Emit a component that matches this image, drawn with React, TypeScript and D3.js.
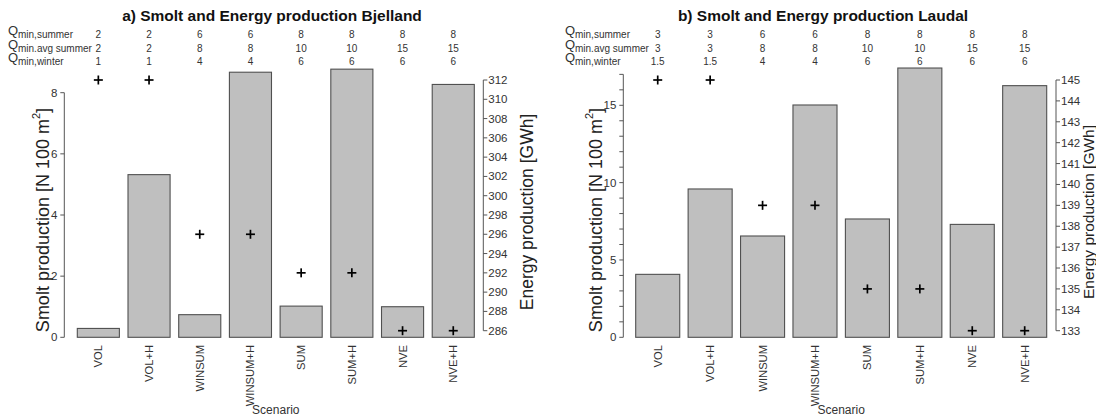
import React from 'react';
import * as d3 from 'd3';

// scenarios on the x axis (same for both sites)
const scenarios = ['VOL', 'VOL+H', 'WINSUM', 'WINSUM+H', 'SUM', 'SUM+H', 'NVE', 'NVE+H'];

// a) Bjelland
const smoltBjelland = [0.29, 5.32, 0.74, 8.67, 1.02, 8.77, 1.0, 8.27];
const energyBjelland = [312, 312, 296, 296, 292, 292, 286, 286];
const qSummerBjelland = ['2', '2', '6', '6', '8', '8', '8', '8'];
const qAvgSummerBjelland = ['2', '2', '8', '8', '10', '10', '15', '15'];
const qWinterBjelland = ['1', '1', '4', '4', '6', '6', '6', '6'];
const smoltTicksBjelland = [0, 2, 4, 6, 8];
const smoltLabelsBjelland = [0, 2, 4, 6, 8];
const energyTicksBjelland = d3.range(286, 313, 2);

// b) Laudal
const smoltLaudal = [4.07, 9.59, 6.55, 15.02, 7.65, 17.41, 7.3, 16.27];
const energyLaudal = [145, 145, 139, 139, 135, 135, 133, 133];
const qSummerLaudal = ['3', '3', '6', '6', '8', '8', '8', '8'];
const qAvgSummerLaudal = ['3', '3', '8', '8', '10', '10', '15', '15'];
const qWinterLaudal = ['1.5', '1.5', '4', '4', '6', '6', '6', '6'];
const smoltTicksLaudal = d3.range(0, 18, 1);
const smoltLabelsLaudal = [0, 5, 10, 15];
const energyTicksLaudal = d3.range(133, 146, 1);

const qNames = ['min,summer', 'min.avg summer', 'min,winter'];

const font = 'Liberation Sans, Arial, sans-serif';
const barFill = '#bfbfbf';
const barStroke = '#505050';
const axisColor = '#555';
const textColor = '#333';

type PanelProps = {
  title: string;
  smolt: number[];
  energy: number[];
  qRows: string[][];
  smoltTicks: number[];
  smoltLabels: number[];
  energyTicks: number[];
  barRange: [number, number];
  padInner: number;
  leftX: number;
  rightX: number;
  smoltDomain: [number, number];
  smoltTop: number;
  energyDomain: [number, number];
  qX: number;
  leftTitleX: number;
  rightTitleX: number;
  rightTitleSize: number;
  titleX: number;
};

const Panel = (p: PanelProps) => {
  const x = d3.scaleBand<string>().domain(scenarios).range(p.barRange).paddingInner(p.padInner).paddingOuter(0);
  const yL = d3.scaleLinear().domain(p.smoltDomain).range([337.3, p.smoltTop]);
  const yR = d3.scaleLinear().domain(p.energyDomain).range([330.7, 80]);
  const bw = x.bandwidth();
  const cx = (s: string) => (x(s) as number) + bw / 2;
  const rowY = [37.6, 51.8, 64.9];
  const midX = (p.barRange[0] + p.barRange[1]) / 2;
  const lt = p.smoltTicks;
  const et = p.energyTicks;

  return (
    <g fontFamily={font}>
      <text x={p.titleX} y={21} textAnchor="middle" fontWeight="bold" fontSize={15.5} fill="#111">
        {p.title}
      </text>

      {/* Q header rows */}
      {p.qRows.map((row, r) => (
        <g key={r}>
          <text x={p.qX} y={rowY[r] - 3} fontSize={13} fill={textColor}>Q</text>
          <text x={p.qX + 10} y={rowY[r]} fontSize={10} fill={textColor}>{qNames[r]}</text>
          {row.map((v, i) => (
            <text key={i} x={cx(scenarios[i])} y={rowY[r]} fontSize={10} textAnchor="middle" fill={textColor}>{v}</text>
          ))}
        </g>
      ))}

      {/* bars */}
      {p.smolt.map((v, i) => (
        <rect key={i} x={x(scenarios[i])} y={yL(v)} width={bw} height={yL(0) - yL(v)}
          fill={barFill} stroke={barStroke} strokeWidth={1.1} />
      ))}

      {/* energy crosses */}
      {p.energy.map((v, i) => (
        <g key={i} stroke="#000" strokeWidth={1.7}>
          <line x1={cx(scenarios[i]) - 4.5} x2={cx(scenarios[i]) + 4.5} y1={yR(v)} y2={yR(v)} />
          <line x1={cx(scenarios[i])} x2={cx(scenarios[i])} y1={yR(v) - 4.5} y2={yR(v) + 4.5} />
        </g>
      ))}

      {/* left axis */}
      <line x1={p.leftX} x2={p.leftX} y1={yL(lt[0])} y2={yL(lt[lt.length - 1])} stroke={axisColor} />
      {lt.map((t) => (
        <line key={t} x1={p.leftX - 4} x2={p.leftX} y1={yL(t)} y2={yL(t)} stroke={axisColor} />
      ))}
      {p.smoltLabels.map((t) => (
        <text key={t} x={p.leftX - 7} y={yL(t)} dy="0.35em" textAnchor="end" fontSize={11.5} fill={textColor}>{t}</text>
      ))}
      <text transform={`translate(${p.leftTitleX},220) rotate(-90)`} textAnchor="middle" dominantBaseline="central"
        fontSize={18} fill="#222">
        Smolt production [N 100 m<tspan fontSize={11} dy={-7}>2</tspan><tspan dy={7}>]</tspan>
      </text>

      {/* right axis */}
      <line x1={p.rightX} x2={p.rightX} y1={yR(et[0])} y2={yR(et[et.length - 1])} stroke={axisColor} />
      {et.map((t) => (
        <g key={t}>
          <line x1={p.rightX} x2={p.rightX + 4} y1={yR(t)} y2={yR(t)} stroke={axisColor} />
          <text x={p.rightX + 5} y={yR(t)} dy="0.35em" fontSize={11.5} fill={textColor}>{t}</text>
        </g>
      ))}
      <text transform={`translate(${p.rightTitleX},212) rotate(-90)`} textAnchor="middle" dominantBaseline="central"
        fontSize={p.rightTitleSize} fill="#222">
        Energy production [GWh]
      </text>

      {/* x labels */}
      {scenarios.map((s) => (
        <text key={s} transform={`translate(${cx(s)},345) rotate(-90)`} textAnchor="end" dominantBaseline="central"
          fontSize={11.2} fill={textColor}>{s}</text>
      ))}
      <text x={midX} y={414} textAnchor="middle" fontSize={12} fill={textColor}>Scenario</text>
    </g>
  );
};

export default function App() {
  return (
    <svg width={1096} height={419} style={{ position: 'absolute', left: 0, top: 0, background: '#fff' }}>
      <rect width={1096} height={419} fill="#fff" />
      <Panel
        title="a) Smolt and Energy production Bjelland"
        smolt={smoltBjelland}
        energy={energyBjelland}
        qRows={[qSummerBjelland, qAvgSummerBjelland, qWinterBjelland]}
        smoltTicks={smoltTicksBjelland}
        smoltLabels={smoltLabelsBjelland}
        energyTicks={energyTicksBjelland}
        barRange={[77.3, 474.3]}
        padInner={0.17}
        leftX={64.3}
        rightX={483.3}
        smoltDomain={[0, 8]}
        smoltTop={92.7}
        energyDomain={[286, 312]}
        qX={8}
        leftTitleX={43}
        rightTitleX={527}
        rightTitleSize={17.5}
        titleX={272}
      />
      <Panel
        title="b) Smolt and Energy production Laudal"
        smolt={smoltLaudal}
        energy={energyLaudal}
        qRows={[qSummerLaudal, qAvgSummerLaudal, qWinterLaudal]}
        smoltTicks={smoltTicksLaudal}
        smoltLabels={smoltLabelsLaudal}
        energyTicks={energyTicksLaudal}
        barRange={[635.7, 1046.7]}
        padInner={0.16}
        leftX={623.3}
        rightX={1056}
        smoltDomain={[0, 15]}
        smoltTop={105.3}
        energyDomain={[133, 145]}
        qX={565}
        leftTitleX={596}
        rightTitleX={1088.5}
        rightTitleSize={15.5}
        titleX={823}
      />
    </svg>
  );
}
